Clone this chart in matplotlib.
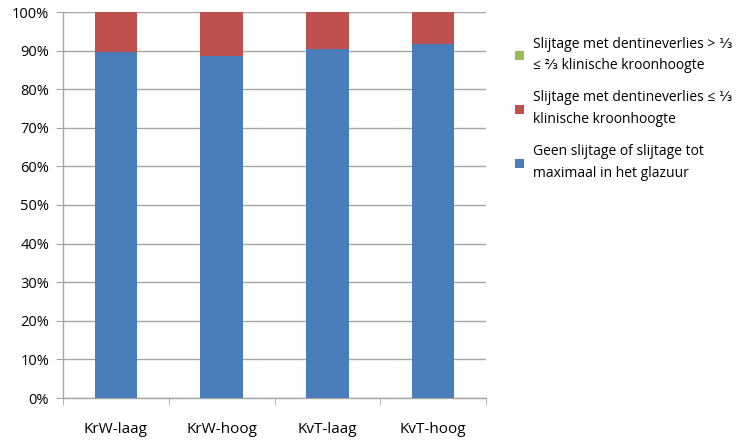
import matplotlib
matplotlib.use("Agg")
import matplotlib.pyplot as plt
import numpy as np
from matplotlib.patches import Patch

plt.rcParams['font.family'] = ['Open Sans', 'DejaVu Sans']

categories = ["KrW-laag", "KrW-hoog", "KvT-laag", "KvT-hoog"]
geen = [89.6, 88.6, 90.4, 91.6]
dentine_laag = [10.4, 11.4, 9.6, 8.4]
dentine_hoog = [0.0, 0.0, 0.0, 0.0]

labels = [
    "Geen slijtage of slijtage tot\nmaximaal in het glazuur",
    "Slijtage met dentineverlies ≤ ⅓\nklinische kroonhoogte",
    "Slijtage met dentineverlies > ⅓\n≤ ⅔ klinische kroonhoogte",
]
colors = ["#4a7ebb", "#c0504d", "#9bbb59"]

fig = plt.figure(figsize=(7.44, 4.42), dpi=100)
ax = fig.add_axes([63 / 744, 44 / 442, 423 / 744, 386 / 442])

x = np.arange(len(categories))
w = 0.4
bottoms = np.zeros(len(categories))
for vals, c in zip([geen, dentine_laag, dentine_hoog], colors):
    ax.bar(x, vals, w, bottom=bottoms, color=c, edgecolor='none', zorder=3)
    bottoms += np.array(vals)

ax.set_xlim(-0.5, len(categories) - 0.5)
ax.set_ylim(0, 100)
ax.set_yticks(np.arange(0, 101, 10))
ax.set_yticklabels([f"{v}%" for v in range(0, 101, 10)], fontsize=10.5)
ax.yaxis.grid(True, color='#a6a6a6', linewidth=1, zorder=0)
ax.set_xticks(x)
ax.set_xticklabels(categories, fontsize=11)
ax.set_xticks(np.arange(-0.5, len(categories), 1), minor=True)
ax.tick_params(axis='x', which='major', length=0, pad=17)
ax.tick_params(axis='x', which='minor', length=5, color='#a6a6a6', direction='out')
ax.tick_params(axis='y', length=5, color='#a6a6a6', direction='out', pad=5)
for s in ['top', 'right']:
    ax.spines[s].set_visible(False)
for s in ['left', 'bottom']:
    ax.spines[s].set_color('#a6a6a6')
    ax.spines[s].set_linewidth(1)

handles = [Patch(facecolor=c, edgecolor='none') for c in colors][::-1]
leg = fig.legend(handles, labels[::-1], loc='upper left',
                 bbox_to_anchor=(502 / 744, 1 - 24 / 442),
                 frameon=False, fontsize=10, handlelength=0.7, handleheight=0.7,
                 handletextpad=0.6, labelspacing=1.25)
for t in leg.get_texts():
    t.set_linespacing(1.6)

fig.savefig("out.png", dpi=100)
